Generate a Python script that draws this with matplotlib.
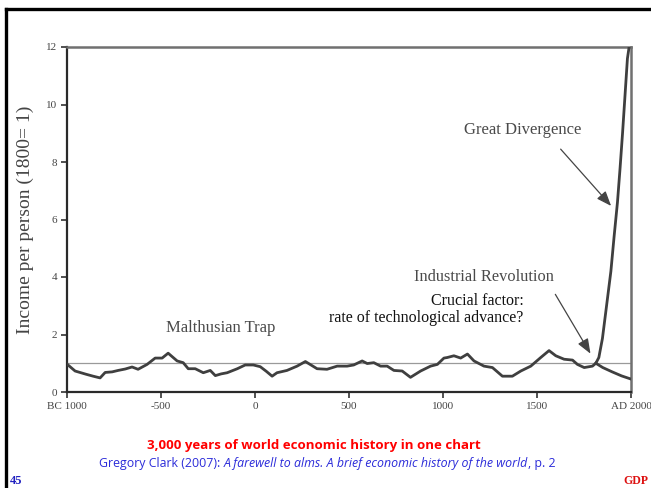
import matplotlib
matplotlib.use("Agg")
import matplotlib.pyplot as plt
from matplotlib.lines import Line2D

# ---- data ----
trap_years = [-1000, -957, -900, -861, -824, -797, -760, -728, -690, -654, -622, -574, -531, -494,
              -462, -414, -382, -355, -318, -275, -238, -211, -180, -148, -94, -52, -9, 28, 60,
              91, 117, 170, 224, 268, 330, 383, 437, 490, 525, 570, 597, 632, 668, 703, 739,
              783, 827, 881, 934, 970, 1005, 1023, 1058, 1094, 1130, 1165, 1218, 1263, 1316,
              1369, 1414, 1467, 1520, 1564, 1600, 1644, 1689, 1715, 1751, 1795, 1813]
trap_income = [0.97, 0.73, 0.62, 0.55, 0.49, 0.68, 0.70, 0.75, 0.80, 0.87, 0.79, 0.96, 1.18, 1.18,
               1.35, 1.08, 1.02, 0.81, 0.81, 0.67, 0.75, 0.57, 0.63, 0.67, 0.81, 0.94, 0.94, 0.88, 0.72,
               0.55, 0.67, 0.75, 0.90, 1.06, 0.81, 0.79, 0.90, 0.90, 0.94, 1.08, 0.99, 1.02, 0.90, 0.90,
               0.75, 0.73, 0.51, 0.73, 0.90, 0.96, 1.18, 1.20, 1.26, 1.18, 1.32, 1.08, 0.90, 0.85,
               0.55, 0.55, 0.73, 0.90, 1.20, 1.44, 1.26, 1.14, 1.11, 0.96, 0.85, 0.90, 1.00]
rise_years = [1813, 1829, 1848, 1870, 1893, 1910, 1928, 1942, 1955, 1968, 1981, 1990, 1995]
rise_income = [1.00, 1.20, 1.86, 3.00, 4.20, 5.40, 6.60, 7.80, 9.00, 10.30, 11.60, 12.0, 12.6]
low_years = [1813, 1850, 1900, 1950, 2000]
low_income = [1.00, 0.85, 0.70, 0.56, 0.45]

x_ticks = [-1000, -500, 0, 500, 1000, 1500, 2000]
x_labels = ["BC 1000", "-500", "0", "500", "1000", "1500", "AD 2000"]
y_ticks = [0, 2, 4, 6, 8, 10, 12]

serif = ["Liberation Serif", "DejaVu Serif"]
curve_c = "#3f3f3f"
txt_c = "#4a4a4a"

fig = plt.figure(figsize=(6.51, 4.88), dpi=100)
W, H = 651, 488
ax = fig.add_axes([67 / W, 1 - 392 / H, (631 - 67) / W, (392 - 47) / H])
ax.set_xlim(-1000, 2000)
ax.set_ylim(0, 12)

ax.axhline(1, color="#9a9a9a", lw=0.9, zorder=1)
ax.plot(trap_years, trap_income, color=curve_c, lw=2.0, zorder=3, solid_joinstyle="round")
ax.plot(rise_years, rise_income, color=curve_c, lw=2.0, zorder=3, clip_on=True)
ax.plot(low_years, low_income, color=curve_c, lw=2.0, zorder=3)

ax.set_xticks(x_ticks)
ax.set_xticklabels(x_labels)
ax.set_yticks(y_ticks)
ax.tick_params(axis="both", direction="out", length=4, width=1.2, color="#333333",
               labelsize=8, labelcolor="#444444", pad=3)
for lab in ax.get_xticklabels() + ax.get_yticklabels():
    lab.set_family(serif)
for s in ["left", "bottom"]:
    ax.spines[s].set_color("#2a2a2a")
    ax.spines[s].set_linewidth(1.6)
for s in ["top", "right"]:
    ax.spines[s].set_color("#707070")
    ax.spines[s].set_linewidth(1.8)

ax.set_ylabel("Income per person (1800= 1)", family=serif, fontsize=14, color="#444444", labelpad=9)

ax.text(-185, 2.23, "Malthusian Trap", family=serif, fontsize=12, color=txt_c, ha="center", va="center")
ax.text(1217, 4.0, "Industrial Revolution", family=serif, fontsize=11.8, color=txt_c, ha="center", va="center")
ax.text(1430, 2.87, "Crucial factor:\nrate of technological advance?", family=serif, fontsize=11.5,
        color="#111111", ha="right", va="center", linespacing=1.1, multialignment="right")
ax.text(1424, 9.11, "Great Divergence", family=serif, fontsize=12, color=txt_c, ha="center", va="center")

arrow_kw = dict(arrowstyle="-|>,head_length=0.9,head_width=0.35", color="#444444", lw=0.9)
ax.annotate("", xy=(1904, 6.4), xytext=(1616, 8.52), arrowprops=arrow_kw)
ax.annotate("", xy=(1792, 1.25), xytext=(1590, 3.48), arrowprops=arrow_kw)

# slide border
fig.add_artist(Line2D([6 / W, 1], [1 - 9 / H, 1 - 9 / H], color="black", lw=2.4, transform=fig.transFigure))
fig.add_artist(Line2D([6 / W, 6 / W], [1 - 9 / H, 0], color="black", lw=2.4, transform=fig.transFigure))

# captions
sans = ["Open Sans", "DejaVu Sans"]
fig.text(314 / W, 1 - 445 / H, "3,000 years of world economic history in one chart", family=sans,
         fontsize=9.5, fontweight="bold", color="#ff0000", ha="center", va="center")

blue = "#2b2bd9"
parts = [("Gregory Clark (2007): ", "normal"),
         ("A farewell to alms. A brief economic history of the world", "italic"),
         (", p. 2", "normal")]
fig.canvas.draw()
r = fig.canvas.get_renderer()
texts = []
for s, st in parts:
    t = fig.text(0, 1 - 464 / H, s, family=sans, fontsize=8.9, style=st, color=blue, ha="left", va="center")
    texts.append(t)
widths = [t.get_window_extent(renderer=r).width for t in texts]
total = sum(widths)
x0 = 327 - total / 2
for t, w in zip(texts, widths):
    t.set_x(x0 / W)
    x0 += w

fig.text(10 / W, 1 - 481 / H, "45", family=serif, fontsize=9, fontweight="bold", color="#2020c0",
         ha="left", va="center")
fig.text(648 / W, 1 - 481 / H, "GDP", family=serif, fontsize=8.5, fontweight="bold", color="#dd1111",
         ha="right", va="center")

fig.savefig("out.png", dpi=100)
